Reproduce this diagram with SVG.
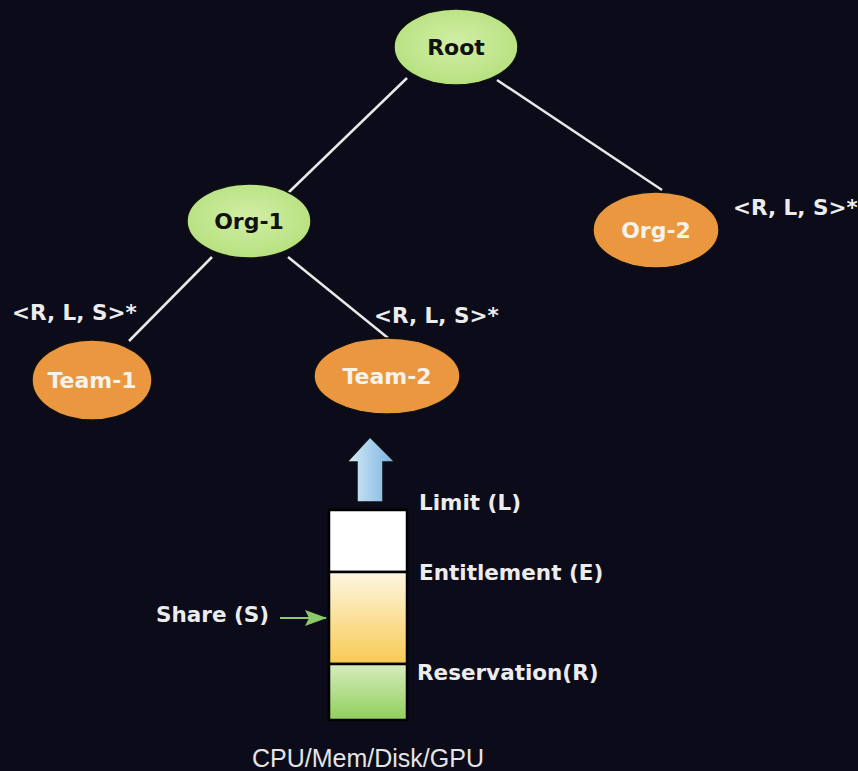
<svg xmlns="http://www.w3.org/2000/svg" width="858" height="771" viewBox="0 0 858 771">
<defs>
<radialGradient id="gGreen" cx="50%" cy="45%" r="60%"><stop offset="0" stop-color="#d2eea6"/><stop offset="1" stop-color="#b3e07c"/></radialGradient>
<linearGradient id="gYellow" x1="0" y1="0" x2="0" y2="1"><stop offset="0" stop-color="#fdf6e2"/><stop offset="1" stop-color="#f8ca52"/></linearGradient>
<linearGradient id="gBarGreen" x1="0" y1="0" x2="0" y2="1"><stop offset="0" stop-color="#d8ecbc"/><stop offset="1" stop-color="#8fcf5c"/></linearGradient>
<linearGradient id="gBlue" x1="0" y1="0" x2="1" y2="0"><stop offset="0" stop-color="#d6ebf8"/><stop offset="1" stop-color="#78b2e0"/></linearGradient>
<marker id="mGreen" viewBox="0 0 22 16" refX="21" refY="8" markerWidth="22" markerHeight="16" orient="auto" markerUnits="userSpaceOnUse"><path d="M0,0 L22,8 L0,16 L4,8 Z" fill="#8dc86a"/></marker>
</defs>
<style>
.bg{fill:#0b0b19}
.green{fill:url(#gGreen);stroke:#111;stroke-width:1.5}
.orange{fill:#ea973f;stroke:#111;stroke-width:1.5}
.edge{stroke:#e8e8e8;stroke-width:2.5;fill:none}
.nt{font-family:"DejaVu Sans",sans-serif;font-weight:bold;font-size:22px;text-anchor:middle}
.dark{fill:#111}
.light{fill:#f7f2ea}
.lbl{font-family:"DejaVu Sans",sans-serif;font-weight:bold;font-size:21.5px;fill:#ececec}
.bar{stroke:#000;stroke-width:2.5}
</style>
<rect class="bg" x="0" y="0" width="858" height="771"/>
<g id="connectors">
<line class="edge" x1="407" y1="78" x2="288" y2="193"/>
<line class="edge" x1="497" y1="80" x2="662" y2="190"/>
<line class="edge" x1="212" y1="257" x2="129" y2="341"/>
<line class="edge" x1="288" y1="257" x2="388" y2="338"/>
<line x1="280" y1="618" x2="326" y2="618" stroke="#8dc86a" stroke-width="2" marker-end="url(#mGreen)"/>
</g>
<g id="root"><ellipse class="green" cx="456" cy="47" rx="62" ry="38"/><text class="nt dark" x="456" y="55">Root</text></g>
<g id="org1"><ellipse class="green" cx="249" cy="221" rx="62" ry="37"/><text class="nt dark" x="249" y="229">Org-1</text></g>
<g id="org2"><ellipse class="orange" cx="656" cy="230" rx="63" ry="38"/><text class="nt light" x="656" y="238">Org-2</text></g>
<g id="team1"><ellipse class="orange" cx="92" cy="380" rx="60" ry="40"/><text class="nt light" x="92" y="388">Team-1</text></g>
<g id="team2"><ellipse class="orange" cx="387" cy="376" rx="73" ry="38"/><text class="nt light" x="387" y="384">Team-2</text></g>
<g id="labels">
<text class="lbl" x="733" y="215">&lt;R, L, S&gt;*</text>
<text class="lbl" x="12" y="320">&lt;R, L, S&gt;*</text>
<text class="lbl" x="374" y="323">&lt;R, L, S&gt;*</text>
</g>
<g id="up-arrow"><path d="M370,437 L395,462 L383,462 L383,502 L357,502 L357,462 L347,462 Z" fill="url(#gBlue)" stroke="#111" stroke-width="1.5"/></g>
<g id="resource-bar">
<rect class="bar" x="329" y="510" width="78" height="62" fill="#ffffff"/>
<rect class="bar" x="329" y="572" width="78" height="92" fill="url(#gYellow)"/>
<rect class="bar" x="329" y="664" width="78" height="56" fill="url(#gBarGreen)"/>
</g>
<g id="bar-labels">
<text class="lbl" x="419" y="510">Limit (L)</text>
<text class="lbl" x="419" y="580">Entitlement (E)</text>
<text class="lbl" x="417" y="680">Reservation(R)</text>
<text class="lbl" x="156" y="622">Share (S)</text>
<text x="368" y="767" font-family="Liberation Sans, Arial, sans-serif" font-size="25" fill="#e4e4e4" text-anchor="middle">CPU/Mem/Disk/GPU</text>
</g>
</svg>
